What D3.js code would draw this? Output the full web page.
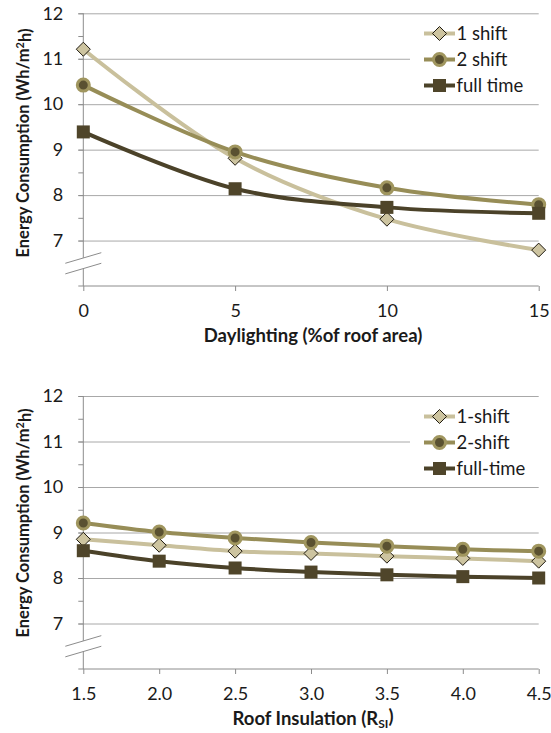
<!DOCTYPE html>
<html>
<head>
<meta charset="utf-8">
<script src="https://cdn.jsdelivr.net/npm/d3@7"></script>
<style>
  html, body { margin: 0; padding: 0; background: #fff; }
  svg { display: block; font-family: Lato, "Open Sans", sans-serif; }
</style>
</head>
<body>
<svg id="chart" width="551" height="733"></svg>
<script>
// Daylighting panel
const daylightX = [0, 5, 10, 15];
const daylight1Shift = [11.21, 8.81, 7.47, 6.79];
const daylight2Shift = [10.42, 8.95, 8.16, 7.79];
const daylightFullTime = [9.39, 8.14, 7.73, 7.60];
const daylightLegend = ["1 shift", "2 shift", "full time"];

// Roof insulation panel
const insulationX = [1.5, 2.0, 2.5, 3.0, 3.5, 4.0, 4.5];
const insulation1Shift = [8.85, 8.72, 8.59, 8.54, 8.48, 8.43, 8.37];
const insulation2Shift = [9.21, 9.01, 8.88, 8.78, 8.70, 8.63, 8.59];
const insulationFullTime = [8.60, 8.37, 8.22, 8.13, 8.07, 8.03, 8.00];
const insulationLegend = ["1-shift", "2-shift", "full-time"];

// Shared y axis
const yMajorTicks = [7, 8, 9, 10, 11, 12];
const yMinorTicks = [6.5, 7.5, 8.5, 9.5, 10.5, 11.5];
const yDomain = [6, 12];
const yBreakValue = 6.5;

const seriesStyles = [
  { line: "#c9c09c", marker: "diamond", fill: "#cdc4a0", stroke: "#1f1a10" },
  { line: "#978d57", marker: "circle",  fill: "#5a5131", stroke: "#a0965f" },
  { line: "#4b4229", marker: "square",  fill: "#4f452a", stroke: "#4f452a" }
];

const svg = d3.select("#chart");
const gridColor = "#a8a8a8";
const axisColor = "#8c8c8c";
const textColor = "#1a1a1a";
const tickFont = "18px";
const legendFont = "18.5px";
const xTitleFont = "18.5px";
const yTitleFont = "16.5px";

function drawPanel(opts) {
  const g = svg.append("g");
  const x = d3.scaleLinear().domain(opts.xDomain).range([83.3, 538.7]);
  const y = d3.scaleLinear().domain(yDomain).range([opts.bottom, opts.top]);

  // Horizontal gridlines with short outward ticks
  const grid = g.append("g").attr("transform", `translate(${x.range()[0]},0)`)
    .call(d3.axisLeft(y).tickValues(yMajorTicks).tickSize(-(x.range()[1] - x.range()[0])).tickFormat(""));
  grid.select(".domain").remove();
  grid.selectAll("line").attr("stroke", gridColor).attr("x1", -5);

  // Minor ticks on the value axis
  const minor = g.append("g").attr("transform", `translate(${x.range()[0]},0)`)
    .call(d3.axisLeft(y).tickValues(yMinorTicks).tickSize(5).tickFormat(""));
  minor.select(".domain").remove();
  minor.selectAll("line").attr("stroke", axisColor);

  // Value axis line and labels
  const yAxis = g.append("g").attr("transform", `translate(${x.range()[0]},0)`)
    .call(d3.axisLeft(y).tickValues(yMajorTicks).tickSize(5).tickPadding(15).tickFormat(d3.format("d")));
  yAxis.select(".domain").attr("stroke", axisColor).attr("d", `M0,${y(6)}V${y(12)}`);
  yAxis.selectAll("line").attr("stroke", axisColor);
  yAxis.selectAll("text").attr("fill", textColor).style("font-size", tickFont).style("font-family", "Lato");

  // Category axis
  const xAxis = g.append("g").attr("transform", `translate(0,${y(6)})`)
    .call(d3.axisBottom(x).tickValues(opts.xValues).tickSize(5).tickSizeOuter(0).tickPadding(13).tickFormat(opts.xFormat));
  xAxis.select(".domain").attr("stroke", axisColor).attr("d", `M${x.range()[0] - 5},0H${x.range()[1]}`);
  xAxis.selectAll("line").attr("stroke", axisColor);
  xAxis.selectAll("text").attr("fill", textColor).style("font-size", tickFont).style("font-family", "Lato");

  // Axis break marker
  const bx = x.range()[0], by = y(yBreakValue);
  const brk = g.append("g");
  brk.append("path").attr("fill", "#fff")
    .attr("d", `M${bx - 18},${by}L${bx + 18},${by - 10.6}L${bx + 18},${by}L${bx - 18},${by + 10.6}Z`);
  brk.append("line").attr("x1", bx - 18).attr("y1", by).attr("x2", bx + 18).attr("y2", by - 10.6).attr("stroke", axisColor);
  brk.append("line").attr("x1", bx - 18).attr("y1", by + 10.6).attr("x2", bx + 18).attr("y2", by).attr("stroke", axisColor);

  // Legend background hides the gridline behind it
  const lg = g.append("g");
  lg.append("rect").attr("x", 410).attr("y", y(11) - 36).attr("width", 140).attr("height", 78).attr("fill", "#fff");

  // Series lines and markers
  const line = d3.line().curve(d3.curveCatmullRom.alpha(0.5)).x(d => x(d[0])).y(d => y(d[1]));
  opts.series.forEach((vals, i) => {
    const st = seriesStyles[i];
    const pts = opts.xValues.map((xv, j) => [xv, vals[j]]);
    g.append("path").datum(pts).attr("d", line).attr("fill", "none")
      .attr("stroke", st.line).attr("stroke-width", 4).attr("stroke-linejoin", "round");
    pts.forEach(p => drawMarker(g, st, x(p[0]), y(p[1])));
  });

  // Legend entries
  opts.legend.forEach((name, i) => {
    const st = seriesStyles[i];
    const cy = opts.legendTop + i * 26;
    lg.append("line").attr("x1", 424).attr("x2", 455).attr("y1", cy).attr("y2", cy)
      .attr("stroke", st.line).attr("stroke-width", 4);
    drawMarker(lg, st, 439.5, cy);
    lg.append("text").attr("x", 456.5).attr("y", cy).attr("dy", "0.36em")
      .attr("fill", textColor).style("font-size", legendFont).text(name);
  });

  // Value axis title
  const yt = g.append("text").attr("transform", `translate(29,${opts.titleY}) rotate(-90)`)
    .attr("text-anchor", "middle").attr("fill", textColor)
    .style("font-size", yTitleFont).style("font-weight", "bold");
  yt.append("tspan").text("Energy Consumption (Wh/m");
  yt.append("tspan").attr("dy", "-0.45em").style("font-size", "11px").text("2");
  yt.append("tspan").attr("dy", "0.45em").text("h)");

  // Category axis title
  const xt = g.append("text").attr("x", (x.range()[0] + x.range()[1]) / 2 + 2).attr("y", y(6) + 55.5)
    .attr("text-anchor", "middle").attr("fill", textColor)
    .style("font-size", xTitleFont).style("font-weight", "bold");
  opts.xTitle(xt);
}

function drawMarker(g, st, cx, cy) {
  if (st.marker === "diamond") {
    g.append("path").attr("d", `M${cx},${cy - 7}L${cx + 7},${cy}L${cx},${cy + 7}L${cx - 7},${cy}Z`)
      .attr("fill", st.fill).attr("stroke", st.stroke).attr("stroke-width", 1);
  } else if (st.marker === "circle") {
    g.append("circle").attr("cx", cx).attr("cy", cy).attr("r", 6)
      .attr("fill", st.fill).attr("stroke", st.stroke).attr("stroke-width", 3);
  } else {
    g.append("rect").attr("x", cx - 6.5).attr("y", cy - 6.5).attr("width", 13).attr("height", 13)
      .attr("fill", st.fill).attr("stroke", "none");
  }
}

drawPanel({
  top: 13.3, bottom: 286,
  xDomain: [0, 15], xValues: daylightX, xFormat: d3.format("d"),
  series: [daylight1Shift, daylight2Shift, daylightFullTime],
  legend: daylightLegend, legendTop: 33.5, titleY: 143,
  xTitle: t => t.text("Daylighting (%of roof area)")
});

drawPanel({
  top: 396, bottom: 669,
  xDomain: [1.5, 4.5], xValues: insulationX, xFormat: d3.format(".1f"),
  series: [insulation1Shift, insulation2Shift, insulationFullTime],
  legend: insulationLegend, legendTop: 416.5, titleY: 523,
  xTitle: t => {
    t.append("tspan").text("Roof Insulation (R");
    t.append("tspan").attr("dy", "0.3em").style("font-size", "12px").text("SI");
    t.append("tspan").attr("dy", "-0.3em").text(")");
  }
});
</script>
</body>
</html>
